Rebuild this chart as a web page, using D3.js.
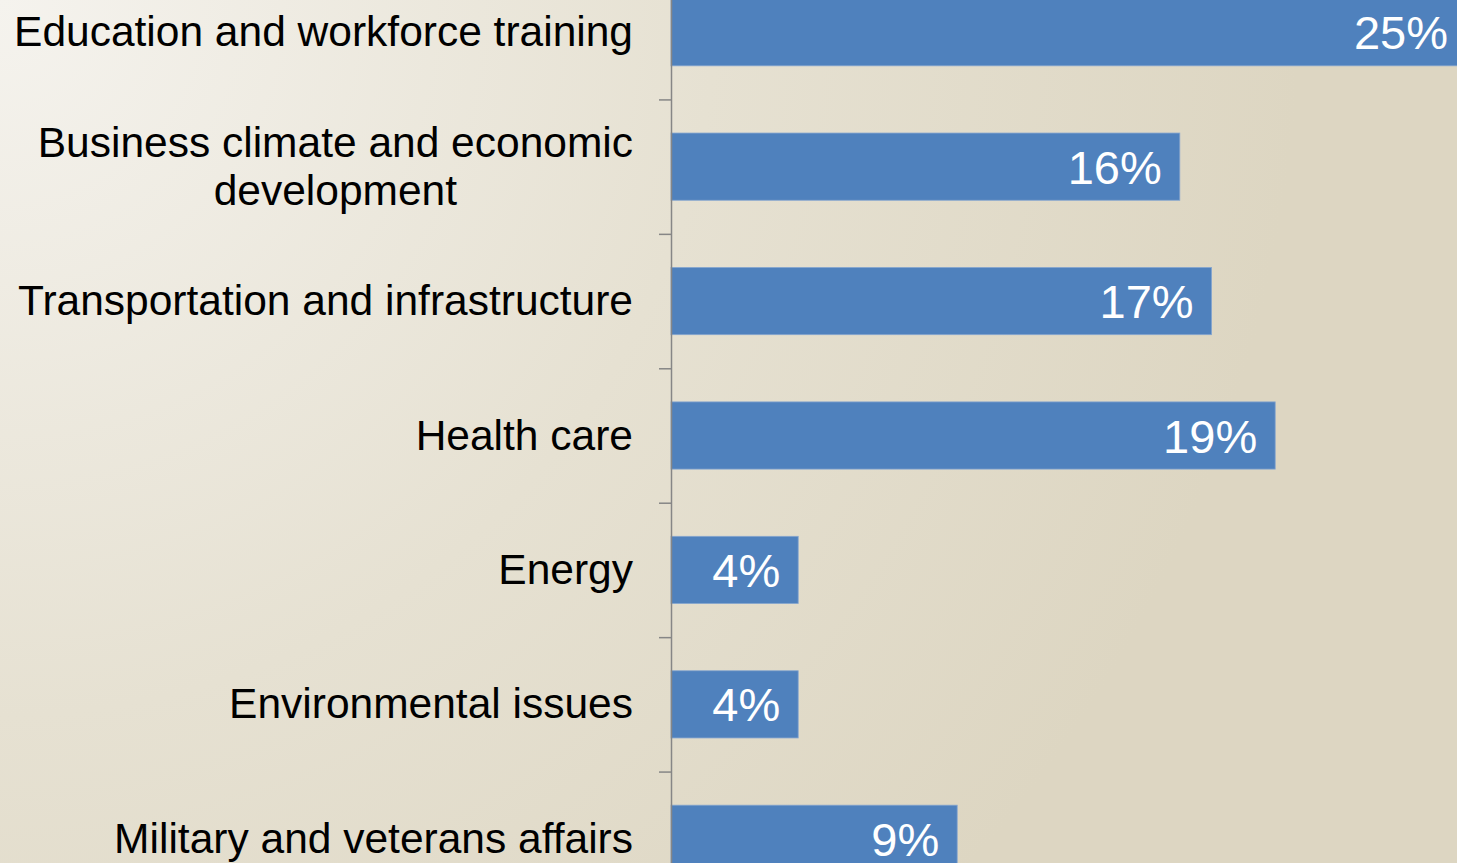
<!DOCTYPE html>
<html lang="en">
<head>
  <meta charset="UTF-8">
  <title>Priorities</title>
  <style>
    html, body { margin: 0; padding: 0; overflow: hidden; }
    svg { display: block; }
    .cat { font-family: "Liberation Sans", Arial, sans-serif; font-size: 42.5px; fill: #000; }
    .val { font-family: "Liberation Sans", Arial, sans-serif; font-size: 47px; fill: #fff; }
    .axis path, .axis line { stroke: #868686; stroke-width: 1.5; }
  </style>
</head>
<body>
<div id="chart"></div>
<script src="https://cdnjs.cloudflare.com/ajax/libs/d3/7.8.5/d3.min.js"></script>
<script>
  // data
  const categories = [
    "Education and workforce training",
    "Business climate and economic development",
    "Transportation and infrastructure",
    "Health care",
    "Energy",
    "Environmental issues",
    "Military and veterans affairs"
  ];
  const shares = [0.25, 0.16, 0.17, 0.19, 0.04, 0.04, 0.09];
  // wrapped label lines
  const labelLines = [
    ["Education and workforce training"],
    ["Business climate and economic", "development"],
    ["Transportation and infrastructure"],
    ["Health care"],
    ["Energy"],
    ["Environmental issues"],
    ["Military and veterans affairs"]
  ];

  const width = 1457, height = 863;
  const axisX = 671;

  const svg = d3.select('#chart').append('svg')
    .attr('width', width)
    .attr('height', height);

  // background gradient
  const defs = svg.append('defs');
  const grad = defs.append('radialGradient')
    .attr('id', 'bg')
    .attr('gradientUnits', 'userSpaceOnUse')
    .attr('cx', 0).attr('cy', 0).attr('r', 1300);
  grad.append('stop').attr('offset', '0%').attr('stop-color', '#f5f3ee');
  grad.append('stop').attr('offset', '55%').attr('stop-color', '#e6e1d2');
  grad.append('stop').attr('offset', '100%').attr('stop-color', '#ddd6c2');
  svg.append('rect').attr('width', width).attr('height', height).attr('fill', 'url(#bg)');

  // scales
  const y = d3.scaleBand()
    .domain(categories)
    .range([-35, 906])
    .paddingInner(0.5)
    .paddingOuter(0.25);
  const x = d3.scaleLinear()
    .domain([0, 0.25])
    .range([axisX, 1466]);
  const yIdx = d3.scaleLinear()
    .domain([0, categories.length])
    .range([-35, 906]);

  // bars
  svg.selectAll('rect.bar')
    .data(shares)
    .enter()
    .append('rect')
    .attr('class', 'bar')
    .attr('x', x(0))
    .attr('y', (d, i) => y(categories[i]))
    .attr('width', d => x(d) - x(0))
    .attr('height', y.bandwidth())
    .attr('fill', '#4f81bd')
    .attr('stroke', '#86a6cf')
    .attr('stroke-width', 0.8);

  // value labels
  svg.selectAll('text.val')
    .data(shares)
    .enter()
    .append('text')
    .attr('class', 'val')
    .attr('x', d => x(d) - 18)
    .attr('y', (d, i) => y(categories[i]) + y.bandwidth() / 2 + 17)
    .attr('text-anchor', 'end')
    .text(d => Math.round(d * 100) + '%');

  // axis
  svg.append('g')
    .attr('class', 'axis')
    .attr('transform', 'translate(' + axisX + ',0)')
    .call(d3.axisLeft(yIdx).tickValues(d3.range(1, categories.length)).tickSize(12).tickSizeOuter(0).tickFormat(''));

  // category labels
  const lineGap = 48;
  labelLines.forEach(function (lines, i) {
    const cy = y(categories[i]) + y.bandwidth() / 2;
    const top = cy - (lines.length - 1) * lineGap / 2;
    const t = svg.append('text').attr('class', 'cat');
    const spans = lines.map(function (ln, j) {
      return t.append('tspan').attr('y', top + j * lineGap + 14).text(ln);
    });
    // block is right aligned, lines centred within it
    let w = 0;
    spans.forEach(s => { w = Math.max(w, s.node().getComputedTextLength()); });
    const right = 633;
    spans.forEach(s => {
      s.attr('x', right - w / 2).attr('text-anchor', 'middle');
    });
  });
</script>
</body>
</html>
